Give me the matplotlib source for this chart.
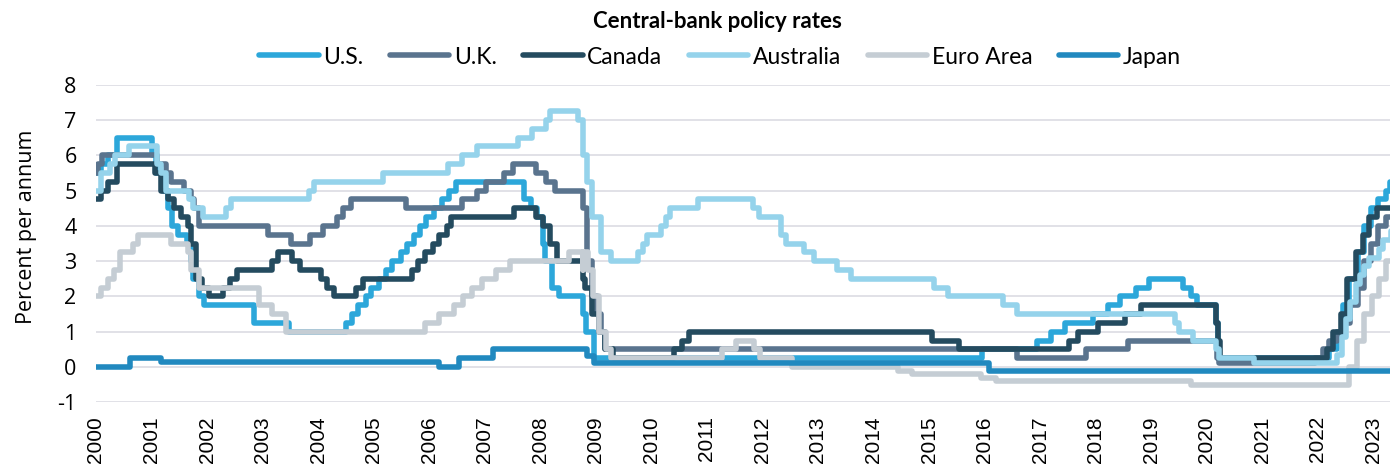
import pandas as pd
import matplotlib.pyplot as plt

plt.rcParams["axes.unicode_minus"] = False

# Policy rate change points (date, rate in %)
us_dates = ["2000-01-01", "2000-02-02", "2000-03-21", "2000-05-16", "2001-01-03", "2001-01-31",
            "2001-03-20", "2001-04-18", "2001-05-15", "2001-06-27", "2001-08-21", "2001-09-17",
            "2001-10-02", "2001-11-06", "2001-12-11", "2002-11-06", "2003-06-25", "2004-06-30",
            "2004-08-10", "2004-09-21", "2004-11-10", "2004-12-14", "2005-02-02", "2005-03-22",
            "2005-05-03", "2005-06-30", "2005-08-09", "2005-09-20", "2005-11-01", "2005-12-13",
            "2006-01-31", "2006-03-28", "2006-05-10", "2006-06-29", "2007-09-18", "2007-10-31",
            "2007-12-11", "2008-01-22", "2008-01-30", "2008-03-18", "2008-04-30", "2008-10-08",
            "2008-10-29", "2008-12-16", "2015-12-16", "2016-12-14", "2017-03-15", "2017-06-14",
            "2017-12-13", "2018-03-21", "2018-06-13", "2018-09-26", "2018-12-19", "2019-07-31",
            "2019-09-18", "2019-10-30", "2020-03-03", "2020-03-15", "2022-03-16", "2022-05-04",
            "2022-06-15", "2022-07-27", "2022-09-21", "2022-11-02", "2022-12-14", "2023-02-01",
            "2023-03-22", "2023-04-20", "2023-06-30"]
us_rates = [5.5, 5.75, 6.0, 6.5, 6.0, 5.5, 5.0, 4.5, 4.0, 3.75, 3.5, 3.0, 2.5, 2.0, 1.75, 1.25,
            1.0, 1.25, 1.5, 1.75, 2.0, 2.25, 2.5, 2.75, 3.0, 3.25, 3.5, 3.75, 4.0, 4.25, 4.5,
            4.75, 5.0, 5.25, 4.75, 4.5, 4.25, 3.5, 3.0, 2.25, 2.0, 1.5, 1.0, 0.25, 0.5, 0.75,
            1.0, 1.25, 1.5, 1.75, 2.0, 2.25, 2.5, 2.25, 2.0, 1.75, 1.25, 0.25, 0.5, 1.0, 1.75,
            2.5, 3.25, 4.0, 4.5, 4.75, 5.0, 5.25, 5.25]

uk_dates = ["2000-01-01", "2000-01-13", "2000-02-10", "2001-02-08", "2001-04-05", "2001-05-10",
            "2001-08-02", "2001-09-18", "2001-10-04", "2001-11-08", "2003-02-06", "2003-07-10",
            "2003-11-06", "2004-02-05", "2004-05-06", "2004-06-10", "2004-08-05", "2005-08-04",
            "2006-08-03", "2006-11-09", "2007-01-11", "2007-05-10", "2007-07-05", "2007-12-06",
            "2008-02-07", "2008-04-10", "2008-10-08", "2008-11-06", "2008-12-04", "2009-01-08",
            "2009-02-05", "2009-03-05", "2016-08-04", "2017-11-02", "2018-08-02", "2020-03-11",
            "2020-03-19", "2021-12-16", "2022-02-03", "2022-03-17", "2022-05-05", "2022-06-16",
            "2022-08-04", "2022-09-22", "2022-11-03", "2022-12-15", "2023-02-02", "2023-03-23",
            "2023-05-11", "2023-06-30"]
uk_rates = [5.5, 5.75, 6.0, 5.75, 5.5, 5.25, 5.0, 4.75, 4.5, 4.0, 3.75, 3.5, 3.75, 4.0, 4.25,
            4.5, 4.75, 4.5, 4.75, 5.0, 5.25, 5.5, 5.75, 5.5, 5.25, 5.0, 4.5, 3.0, 2.0, 1.5, 1.0,
            0.5, 0.25, 0.5, 0.75, 0.25, 0.1, 0.25, 0.5, 0.75, 1.0, 1.25, 1.75, 2.25, 3.0, 3.5,
            4.0, 4.25, 4.5, 4.5]

ca_dates = ["2000-01-01", "2000-02-03", "2000-03-22", "2000-05-17", "2001-01-23", "2001-03-06",
            "2001-04-17", "2001-05-29", "2001-07-17", "2001-08-28", "2001-09-17", "2001-10-23",
            "2001-11-27", "2002-01-15", "2002-04-16", "2002-06-04", "2002-07-16", "2003-03-04",
            "2003-04-15", "2003-07-15", "2003-09-03", "2004-01-20", "2004-03-02", "2004-04-13",
            "2004-09-08", "2004-10-19", "2005-09-07", "2005-10-18", "2005-12-06", "2006-01-24",
            "2006-03-07", "2006-04-25", "2006-05-24", "2007-07-10", "2007-12-04", "2008-01-22",
            "2008-03-04", "2008-04-22", "2008-10-08", "2008-10-21", "2008-12-09", "2009-01-20",
            "2009-03-03", "2009-04-21", "2010-06-01", "2010-07-20", "2010-09-08", "2015-01-21",
            "2015-07-15", "2017-07-12", "2017-09-06", "2018-01-17", "2018-07-11", "2018-10-24",
            "2020-03-04", "2020-03-13", "2020-03-27", "2022-03-02", "2022-04-13", "2022-06-01",
            "2022-07-13", "2022-09-07", "2022-10-26", "2022-12-07", "2023-01-25", "2023-06-30"]
ca_rates = [4.75, 5.0, 5.25, 5.75, 5.5, 5.0, 4.75, 4.5, 4.25, 4.0, 3.5, 2.5, 2.25, 2.0, 2.25,
            2.5, 2.75, 3.0, 3.25, 3.0, 2.75, 2.5, 2.25, 2.0, 2.25, 2.5, 2.75, 3.0, 3.25, 3.5,
            3.75, 4.0, 4.25, 4.5, 4.25, 4.0, 3.5, 3.0, 2.5, 2.25, 1.5, 1.0, 0.5, 0.25, 0.5,
            0.75, 1.0, 0.75, 0.5, 0.75, 1.0, 1.25, 1.5, 1.75, 1.25, 0.75, 0.25, 0.5, 1.0, 1.5,
            2.5, 3.25, 3.75, 4.25, 4.5, 4.5]

au_dates = ["2000-01-01", "2000-02-02", "2000-04-05", "2000-05-03", "2000-08-02", "2001-02-07",
            "2001-03-07", "2001-04-04", "2001-09-05", "2001-10-03", "2001-12-05", "2002-05-08",
            "2002-06-05", "2003-11-05", "2003-12-03", "2005-03-02", "2006-05-03", "2006-08-02",
            "2006-11-08", "2007-08-08", "2007-11-07", "2008-02-06", "2008-03-05", "2008-09-03",
            "2008-10-08", "2008-11-05", "2008-12-03", "2009-02-04", "2009-04-08", "2009-10-07",
            "2009-11-04", "2009-12-02", "2010-03-03", "2010-04-07", "2010-05-05", "2010-11-03",
            "2011-11-02", "2011-12-07", "2012-05-02", "2012-06-06", "2012-10-03", "2012-12-05",
            "2013-05-08", "2013-08-07", "2015-02-04", "2015-05-06", "2016-05-04", "2016-08-03",
            "2019-06-05", "2019-07-03", "2019-10-02", "2020-03-04", "2020-03-20", "2020-11-04",
            "2022-05-04", "2022-06-08", "2022-07-06", "2022-08-03", "2022-09-07", "2022-10-05",
            "2022-11-02", "2022-12-07", "2023-02-08", "2023-03-08", "2023-04-25", "2023-06-30"]
au_rates = [5.0, 5.5, 5.75, 6.0, 6.25, 5.75, 5.5, 5.0, 4.75, 4.5, 4.25, 4.5, 4.75, 5.0, 5.25,
            5.5, 5.75, 6.0, 6.25, 6.5, 6.75, 7.0, 7.25, 7.0, 6.0, 5.25, 4.25, 3.25, 3.0, 3.25,
            3.5, 3.75, 4.0, 4.25, 4.5, 4.75, 4.5, 4.25, 3.75, 3.5, 3.25, 3.0, 2.75, 2.5, 2.25,
            2.0, 1.75, 1.5, 1.25, 1.0, 0.75, 0.5, 0.25, 0.1, 0.35, 0.85, 1.35, 1.85, 2.35, 2.6,
            2.85, 3.1, 3.35, 3.6, 3.85, 3.85]

ea_dates = ["2000-01-01", "2000-02-04", "2000-03-17", "2000-04-28", "2000-06-09", "2000-09-01",
            "2000-10-06", "2001-05-11", "2001-08-31", "2001-09-18", "2001-11-09", "2002-12-06",
            "2003-03-07", "2003-06-06", "2005-12-06", "2006-03-08", "2006-06-15", "2006-08-09",
            "2006-10-11", "2006-12-13", "2007-03-14", "2007-06-13", "2008-07-09", "2008-10-08",
            "2008-10-09", "2008-11-12", "2008-12-10", "2009-01-21", "2009-03-11", "2009-04-08",
            "2011-04-13", "2011-07-13", "2011-11-09", "2011-12-14", "2012-07-11", "2014-06-11",
            "2014-09-10", "2015-12-09", "2016-03-16", "2019-09-18", "2022-07-27", "2022-09-14",
            "2022-11-02", "2022-12-21", "2023-02-08", "2023-03-22", "2023-05-10", "2023-06-30"]
ea_rates = [2.0, 2.25, 2.5, 2.75, 3.25, 3.5, 3.75, 3.5, 3.25, 2.75, 2.25, 1.75, 1.5, 1.0, 1.25,
            1.5, 1.75, 2.0, 2.25, 2.5, 2.75, 3.0, 3.25, 2.75, 3.25, 2.75, 2.0, 1.0, 0.5, 0.25,
            0.5, 0.75, 0.5, 0.25, 0.0, -0.1, -0.2, -0.3, -0.4, -0.5, 0.0, 0.75, 1.5, 2.0, 2.5,
            3.0, 3.25, 3.25]

jp_dates = ["2000-01-01", "2000-08-11", "2001-03-01", "2006-03-09", "2006-07-14", "2007-02-21",
            "2008-10-31", "2008-12-19", "2016-01-29", "2023-06-30"]
jp_rates = [0.0, 0.25, 0.15, 0.0, 0.25, 0.5, 0.3, 0.1, -0.1, -0.1]

series = [
    ("U.S.", us_dates, us_rates, "#2CA7DA"),
    ("U.K.", uk_dates, uk_rates, "#5A748E"),
    ("Canada", ca_dates, ca_rates, "#244B5F"),
    ("Australia", au_dates, au_rates, "#95D3EB"),
    ("Euro Area", ea_dates, ea_rates, "#C5CDD4"),
    ("Japan", jp_dates, jp_rates, "#2189BF"),
]
years = list(range(2000, 2024))


def to_year(dates):
    d = pd.to_datetime(dates)
    return d.year + (d.dayofyear - 1) / 365.25


fig = plt.figure(figsize=(13.9, 4.68), dpi=100)
ax = fig.add_axes([96 / 1390, 1 - 402.3 / 468, 1294 / 1390, 317.6 / 468])

for name, dates, rates, color in series:
    ax.plot(to_year(dates), rates, drawstyle="steps-post", color=color, lw=4,
            solid_joinstyle="round", solid_capstyle="round", label=name)

ax.set_xlim(2000, 2023.3)
ax.set_ylim(-1, 8)
ax.set_yticks(range(-1, 9))
ax.set_xticks(years)
ax.set_xticklabels([str(y) for y in years], rotation=90, fontsize=15,
                   family="Liberation Sans")
for lab in ax.get_yticklabels():
    lab.set_fontsize(15.5)
    lab.set_family("Open Sans")
ax.tick_params(axis="both", length=0)
ax.tick_params(axis="x", pad=10)
ax.tick_params(axis="y", pad=14)
ax.grid(axis="y", color="#D9D9E0", lw=1.1)
ax.set_axisbelow(True)
for s in ax.spines.values():
    s.set_visible(False)

fig.text(27 / 1390, 1 - 227 / 468, "Percent per annum", rotation=90, ha="center",
         va="center", fontsize=15.5, family="Open Sans")
fig.text(717 / 1390, 1 - 21 / 468, "Central-bank policy rates", ha="center", va="center",
         fontsize=16, fontweight="bold", family="Lato")
fig.legend(loc="center", bbox_to_anchor=(720 / 1390, 1 - 57 / 468), ncol=6, frameon=False,
           prop={"family": "Lato", "size": 16.5}, handlelength=2.6, handletextpad=0.2,
           columnspacing=1.15)

fig.savefig("out.png", dpi=100)
